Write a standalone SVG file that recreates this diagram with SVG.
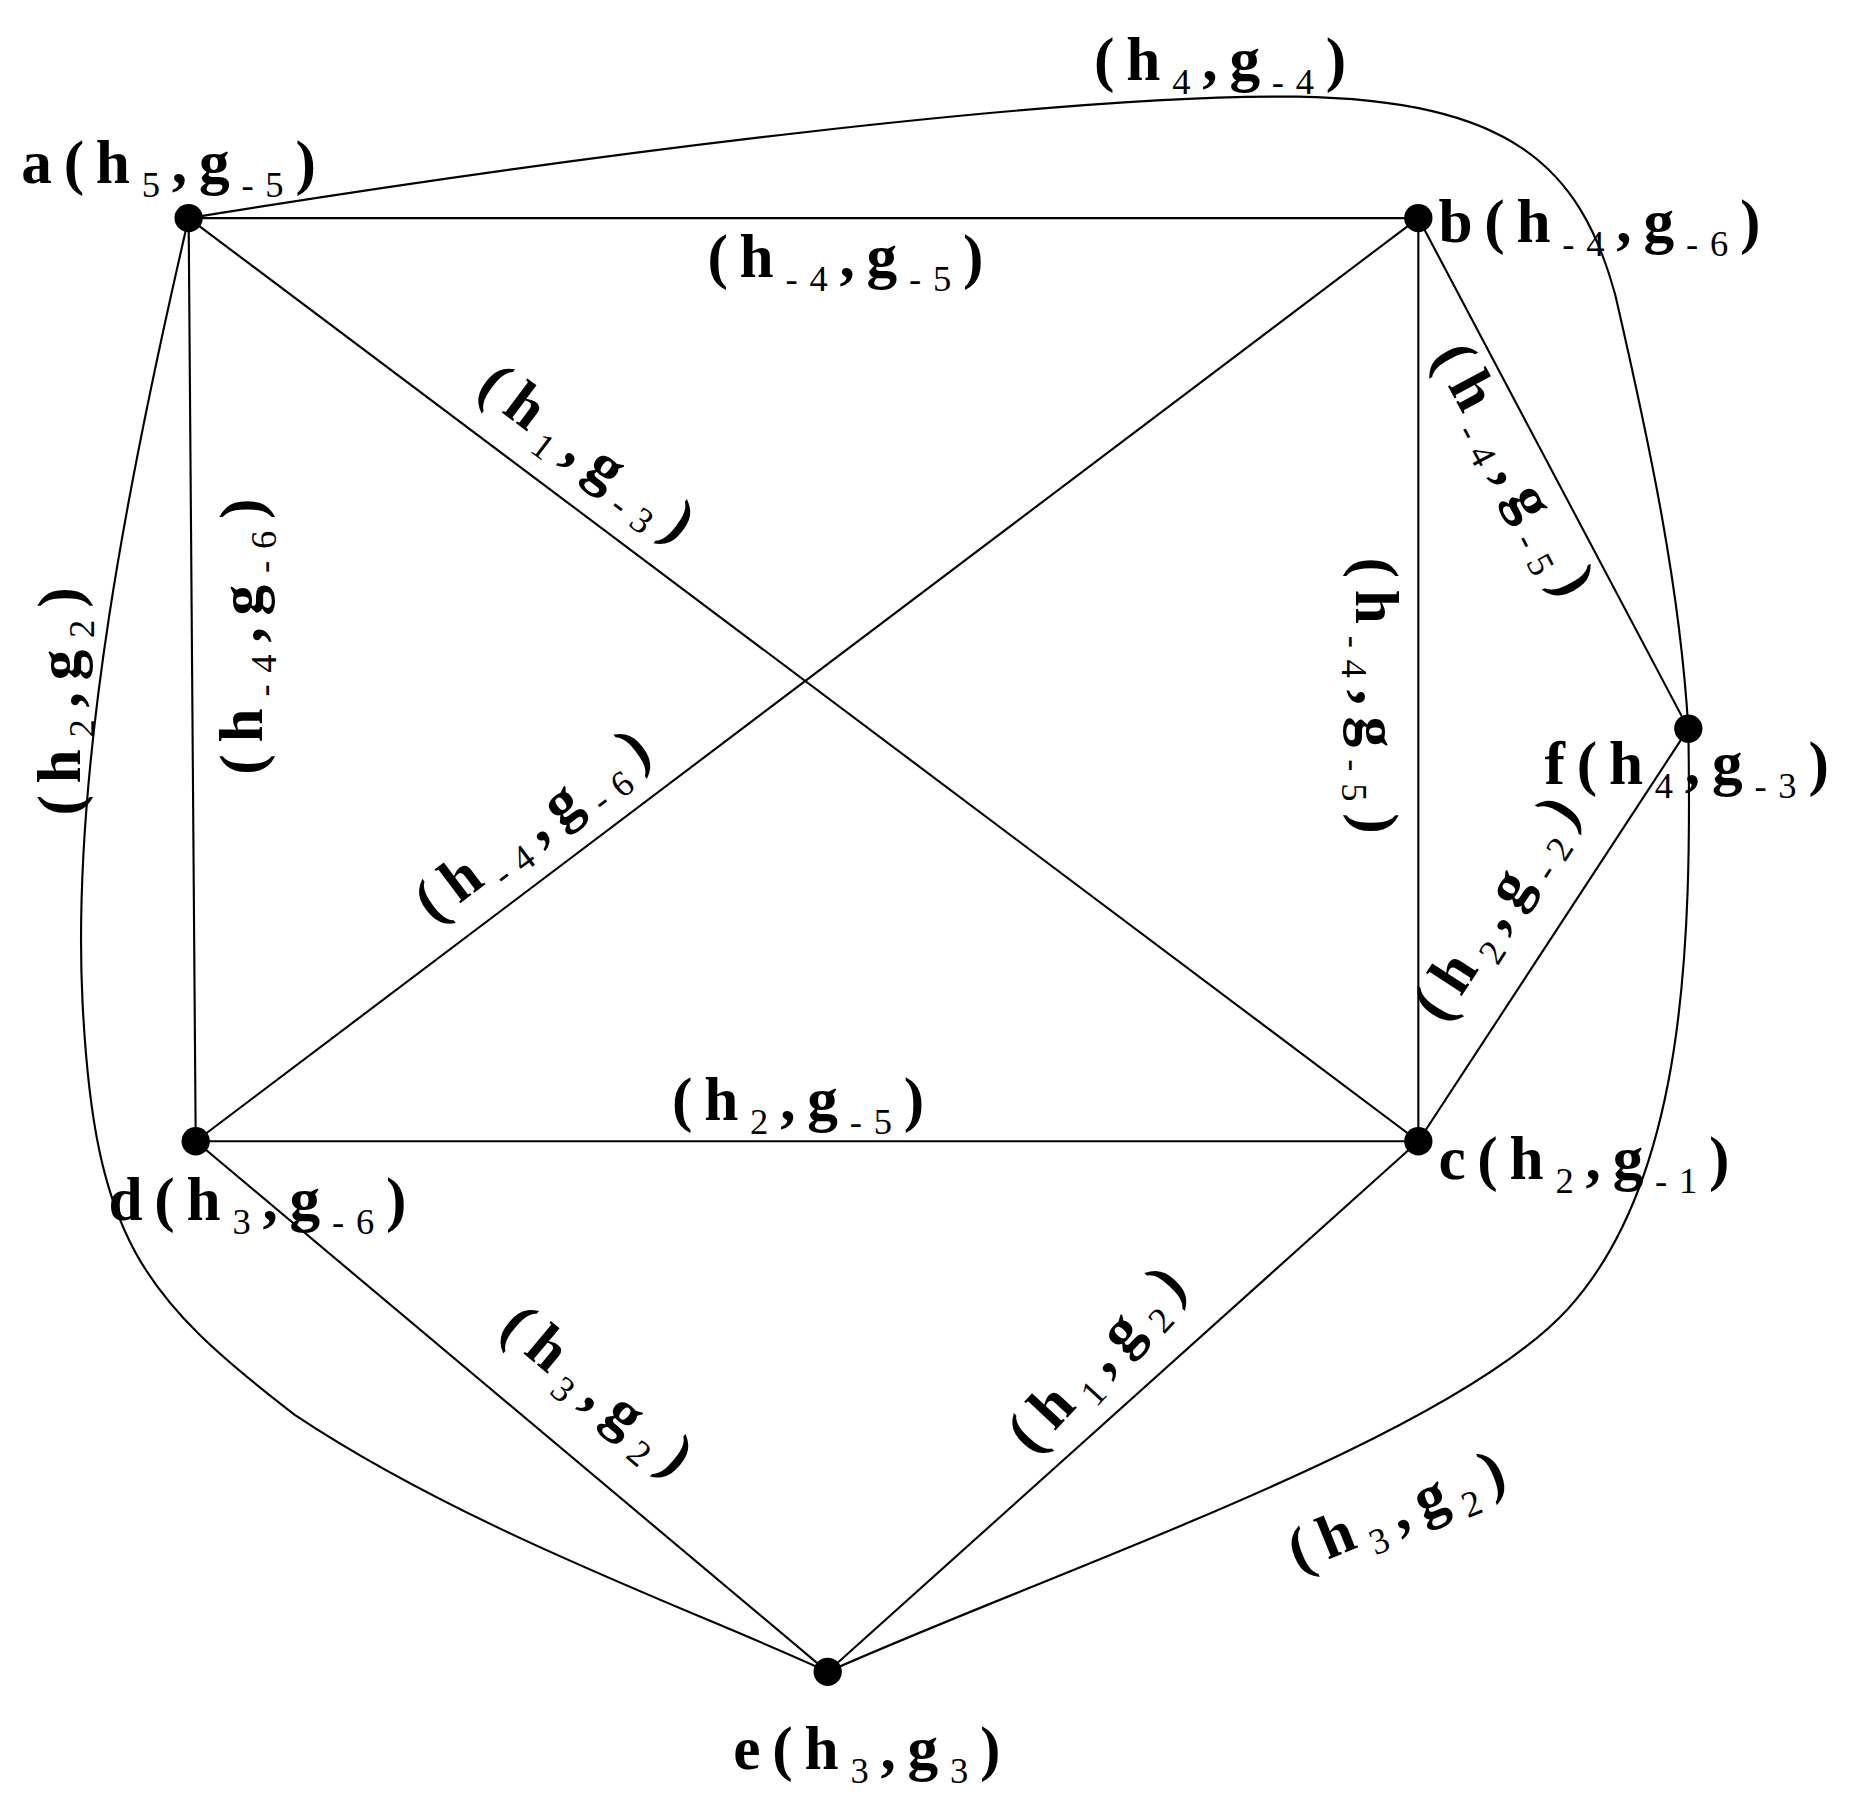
<svg xmlns="http://www.w3.org/2000/svg" width="1849" height="1795" viewBox="0 0 1849 1795">
<style>
.e{fill:none;stroke:#000;stroke-width:1.8}
text{font-family:"Liberation Serif",serif;font-weight:bold;font-size:52px;letter-spacing:10px;fill:#000}
.m{text-anchor:middle}
tspan.s{font-weight:normal;font-size:31px}
</style>
<rect width="1849" height="1795" fill="#fff"/>
<g transform="scale(1.179)">
<g id="connectors">
<line class="e" x1="160" y1="185" x2="1203" y2="185"/>
<line class="e" x1="160" y1="185" x2="166" y2="968"/>
<line class="e" x1="160" y1="185" x2="1203" y2="968"/>
<line class="e" x1="166" y1="968" x2="1203" y2="185"/>
<line class="e" x1="166" y1="968" x2="1203" y2="968"/>
<line class="e" x1="1203" y1="185" x2="1203" y2="968"/>
<line class="e" x1="1203" y1="185" x2="1432" y2="618"/>
<line class="e" x1="1203" y1="968" x2="1432" y2="618"/>
<line class="e" x1="166" y1="968" x2="702" y2="1418"/>
<line class="e" x1="1203" y1="968" x2="702" y2="1418"/>
<path class="e" d="M160,185 C500,130 900,80 1100,82 C1280,85 1340,140 1370,250 C1400,380 1425,500 1432,618"/>
<path class="e" d="M160,185 C110,400 60,650 70,850 C80,1050 120,1100 250,1200 C400,1300 600,1370 702,1418"/>
<path class="e" d="M1432,618 C1435,800 1430,1000 1330,1110 C1230,1220 900,1330 702,1418"/>
</g>
<g id="a"><circle cx="160" cy="185" r="12"/><text x="18" y="155">a(h<tspan class="s" dy="12">5</tspan><tspan dy="-12">,g</tspan><tspan class="s" dy="12">-5</tspan><tspan dy="-12">)</tspan></text></g>
<g id="b"><circle cx="1203" cy="185" r="12"/><text x="1220" y="205">b(h<tspan class="s" dy="12">-4</tspan><tspan dy="-12">,g</tspan><tspan class="s" dy="12">-6</tspan><tspan dy="-12">)</tspan></text></g>
<g id="c"><circle cx="1203" cy="968" r="12"/><text x="1220" y="1000">c(h<tspan class="s" dy="12">2</tspan><tspan dy="-12">,g</tspan><tspan class="s" dy="12">-1</tspan><tspan dy="-12">)</tspan></text></g>
<g id="d"><circle cx="166" cy="968" r="12"/><text x="92" y="1035">d(h<tspan class="s" dy="12">3</tspan><tspan dy="-12">,g</tspan><tspan class="s" dy="12">-6</tspan><tspan dy="-12">)</tspan></text></g>
<g id="e"><circle cx="702" cy="1418" r="12"/><text x="622" y="1500">e(h<tspan class="s" dy="12">3</tspan><tspan dy="-12">,g</tspan><tspan class="s" dy="12">3</tspan><tspan dy="-12">)</tspan></text></g>
<g id="f"><circle cx="1432" cy="618" r="12"/><text x="1310" y="665">f(h<tspan class="s" dy="12">4</tspan><tspan dy="-12">,g</tspan><tspan class="s" dy="12">-3</tspan><tspan dy="-12">)</tspan></text></g>
<g id="labels">
<text x="928" y="68">(h<tspan class="s" dy="12">4</tspan><tspan dy="-12">,g</tspan><tspan class="s" dy="12">-4</tspan><tspan dy="-12">)</tspan></text>
<text x="600" y="235">(h<tspan class="s" dy="12">-4</tspan><tspan dy="-12">,g</tspan><tspan class="s" dy="12">-5</tspan><tspan dy="-12">)</tspan></text>
<text x="570" y="950">(h<tspan class="s" dy="12">2</tspan><tspan dy="-12">,g</tspan><tspan class="s" dy="12">-5</tspan><tspan dy="-12">)</tspan></text>
<text class="m" transform="translate(492,400) rotate(37)">(h<tspan class="s" dy="12">1</tspan><tspan dy="-12">,g</tspan><tspan class="s" dy="12">-3</tspan><tspan dy="-12">)</tspan></text>
<text class="m" transform="translate(465,710) rotate(-37)">(h<tspan class="s" dy="12">-4</tspan><tspan dy="-12">,g</tspan><tspan class="s" dy="12">-6</tspan><tspan dy="-12">)</tspan></text>
<text class="m" transform="translate(222,535) rotate(-90)">(h<tspan class="s" dy="12">-4</tspan><tspan dy="-12">,g</tspan><tspan class="s" dy="12">-6</tspan><tspan dy="-12">)</tspan></text>
<text class="m" transform="translate(68,590) rotate(-90)">(h<tspan class="s" dy="12">2</tspan><tspan dy="-12">,g</tspan><tspan class="s" dy="12">2</tspan><tspan dy="-12">)</tspan></text>
<text class="m" transform="translate(1150,595) rotate(90)">(h<tspan class="s" dy="12">-4</tspan><tspan dy="-12">,g</tspan><tspan class="s" dy="12">-5</tspan><tspan dy="-12">)</tspan></text>
<text class="m" transform="translate(1272,410) rotate(62)">(h<tspan class="s" dy="12">-4</tspan><tspan dy="-12">,g</tspan><tspan class="s" dy="12">-5</tspan><tspan dy="-12">)</tspan></text>
<text class="m" transform="translate(1285,775) rotate(-57)">(h<tspan class="s" dy="12">2</tspan><tspan dy="-12">,g</tspan><tspan class="s" dy="12">-2</tspan><tspan dy="-12">)</tspan></text>
<text class="m" transform="translate(500,1195) rotate(40)">(h<tspan class="s" dy="12">3</tspan><tspan dy="-12">,g</tspan><tspan class="s" dy="12">2</tspan><tspan dy="-12">)</tspan></text>
<text class="m" transform="translate(945,1160) rotate(-47)">(h<tspan class="s" dy="12">1</tspan><tspan dy="-12">,g</tspan><tspan class="s" dy="12">2</tspan><tspan dy="-12">)</tspan></text>
<text class="m" transform="translate(1195,1295) rotate(-22)">(h<tspan class="s" dy="12">3</tspan><tspan dy="-12">,g</tspan><tspan class="s" dy="12">2</tspan><tspan dy="-12">)</tspan></text>
</g>
</g>
</svg>
